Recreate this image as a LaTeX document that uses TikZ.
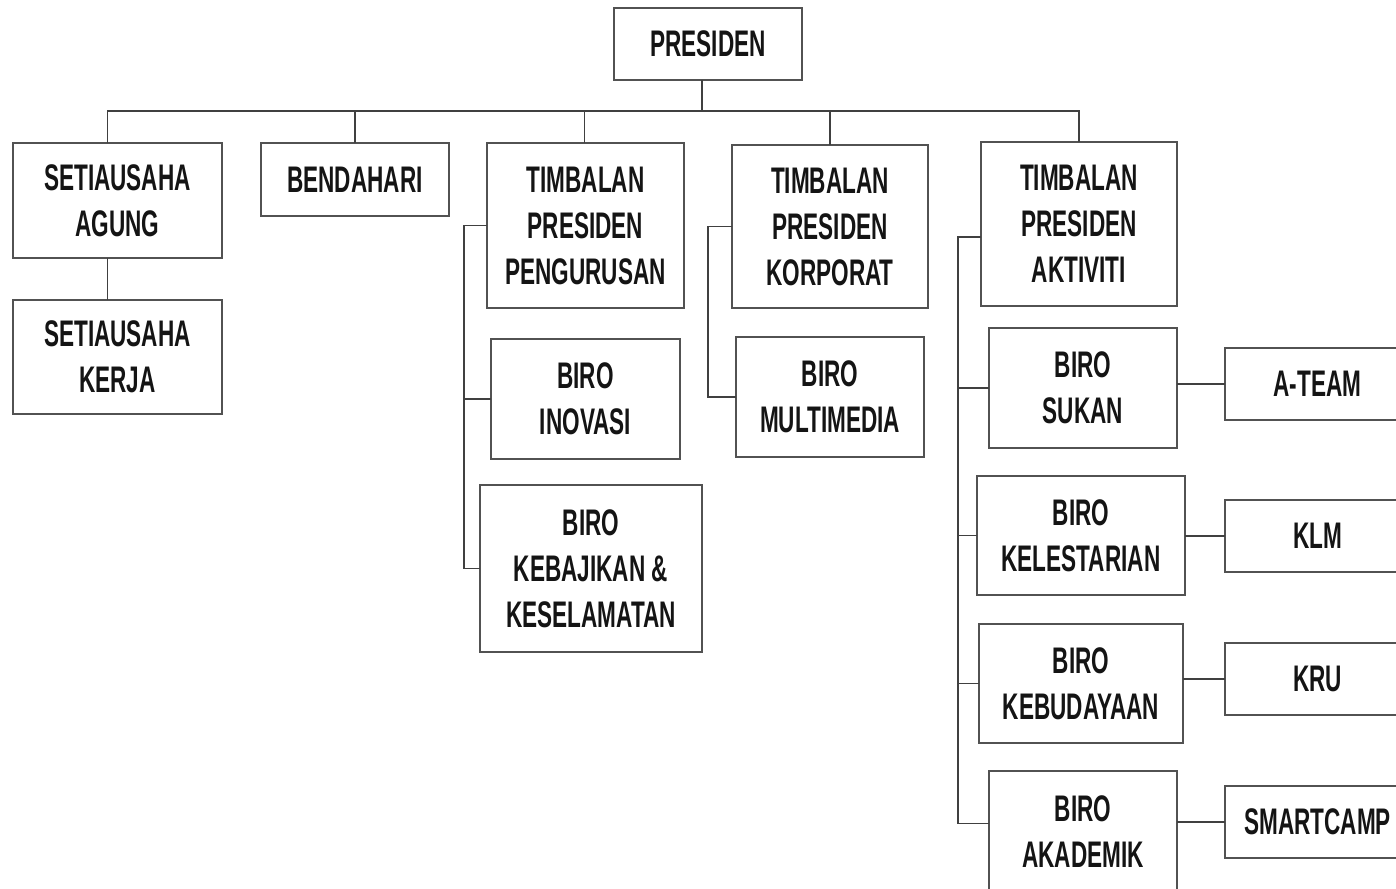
\documentclass[tikz,border=0pt]{standalone}
\usepackage{fontspec}
\usetikzlibrary{calc}
% condensed bold face for the chart labels
\newfontfamily\orgfont{Liberation Sans Bold}[FakeStretch=0.61]

% box given by its corners: name, x1, y1, x2, y2, text
\newcommand\orgbox[6]{%
  \node[unit, minimum width={#4-#2}, minimum height={#5-#3}]
    (#1) at ({(#2+#4)/2},{(#3+#5)/2}) {#6};}

\begin{document}
\begin{tikzpicture}[x=1pt,y=-1pt,
  unit/.style={draw=black!68, line width=1.6pt, inner sep=0pt, outer sep=0pt,
    align=center, text=black!92, font=\orgfont\fontsize{37}{46}\selectfont},
  link/.style={draw=black!75, line width=1.6pt}]
\useasboundingbox (0,0) rectangle (1396,888);
\clip (0,0) rectangle (1396,888);

% boxes
\orgbox{pres}{614}{8}{802}{80}{PRESIDEN}
\orgbox{sa}{13}{143}{222}{258}{SETIAUSAHA\\AGUNG}
\orgbox{sk}{13}{300}{222}{414}{SETIAUSAHA\\KERJA}
\orgbox{bend}{261}{143}{449}{216}{BENDAHARI}
\orgbox{tpp}{487}{143}{684}{308}{TIMBALAN\\PRESIDEN\\PENGURUSAN}
\orgbox{bino}{491}{339}{680}{459}{BIRO\\INOVASI}
\orgbox{bkk}{480}{485}{702}{652}{BIRO\\KEBAJIKAN \&\\KESELAMATAN}
\orgbox{tpk}{732}{145}{928}{308}{TIMBALAN\\PRESIDEN\\KORPORAT}
\orgbox{bmm}{736}{337}{924}{457}{BIRO\\MULTIMEDIA}
\orgbox{tpa}{981}{142}{1177}{306}{TIMBALAN\\PRESIDEN\\AKTIVITI}
\orgbox{bsk}{989}{328}{1177}{448}{BIRO\\SUKAN}
\orgbox{bkl}{977}{476}{1185}{595}{BIRO\\KELESTARIAN}
\orgbox{bkb}{979}{624}{1183}{743}{BIRO\\KEBUDAYAAN}
\orgbox{bak}{989}{771}{1177}{892}{BIRO\\AKADEMIK}
\orgbox{ateam}{1225}{348}{1410}{420}{A-TEAM}
\orgbox{klm}{1225}{500}{1410}{572}{KLM}
\orgbox{kru}{1225}{643}{1410}{715}{KRU}
\orgbox{smart}{1225}{786}{1410}{858}{SMARTCAMP}

% top level bus
\coordinate (bus) at (702,111);
\draw[link] ($(pres.south)+(-6,0)$) -- (bus);
\draw[link] ($(sa.north)+(-10,0)$) |- (tpa.north |- bus) -- (tpa.north);
\draw[link] (bend.north) -- (bend.north |- bus);
\draw[link] ($(tpp.north)+(-1,0)$) -- ($(tpp.north |- bus)+(-1,0)$);
\draw[link] (tpk.north) -- (tpk.north |- bus);
\draw[link] ($(sa.south)+(-10,0)$) -- ($(sk.north)+(-10,0)$);

% pengurusan branch
\coordinate (pgx) at (464,0);
\draw[link] (tpp.west) -- (tpp.west -| pgx) |- (bkk.west);
\draw[link] (bino.west) -- (bino.west -| pgx);

% korporat branch
\coordinate (kpx) at (708,0);
\draw[link] (tpk.west) -- (tpk.west -| kpx) |- (bmm.west);

% aktiviti branch
\coordinate (akx) at (958,0);
\draw[link] ($(tpa.west)+(0,13)$) -- ($(tpa.west -| akx)+(0,13)$)
  |- ($(bak.west)+(0,-8)$);
\draw[link] (bsk.west) -- (bsk.west -| akx);
\draw[link] (bkl.west) -- (bkl.west -| akx);
\draw[link] (bkb.west) -- (bkb.west -| akx);

% clubs
\draw[link] (bsk.east |- ateam.west) -- (ateam.west);
\draw[link] (bkl.east |- klm.west) -- (klm.west);
\draw[link] (bkb.east |- kru.west) -- (kru.west);
\draw[link] (bak.east |- smart.west) -- (smart.west);
\end{tikzpicture}
\end{document}
